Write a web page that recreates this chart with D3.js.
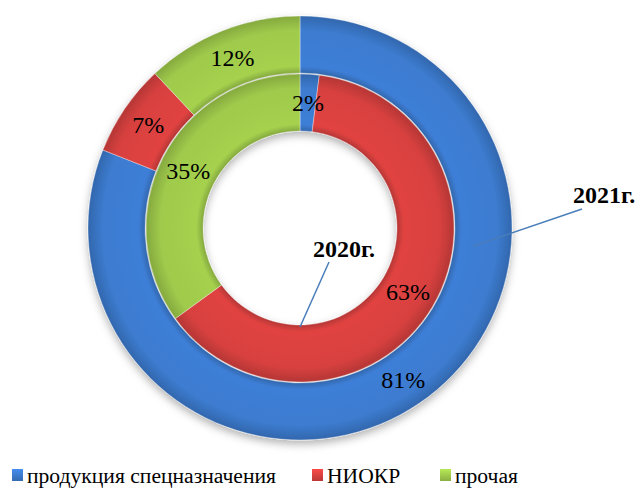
<!DOCTYPE html>
<html>
<head>
<meta charset="utf-8">
<script src="https://cdn.jsdelivr.net/npm/d3@7"></script>
<style>
  body { margin: 0; background: #fff; }
  svg { display: block; }
</style>
</head>
<body>
<svg id="chart"></svg>
<script>
// данные
const categories = ["продукция спецназначения", "НИОКР", "прочая"];
const values2020 = [2, 63, 35];
const values2021 = [81, 7, 12];
const years = ["2020г.", "2021г."];
const colors = ["#3c7bcf", "#d8413f", "#9fca4b"];

const width = 641;
const height = 489;
const cx = 300, cy = 228;
const serif = "'Liberation Serif', 'Times New Roman', 'DejaVu Serif', serif";

const svg = d3.select("#chart").attr("width", width).attr("height", height);
const defs = svg.append("defs");

// тень под диаграммой
const shadow = defs.append("filter").attr("id", "shadow")
  .attr("x", "-20%").attr("y", "-20%").attr("width", "140%").attr("height", "140%");
shadow.append("feDropShadow")
  .attr("dx", 0).attr("dy", 4).attr("stdDeviation", 4)
  .attr("flood-color", "#000").attr("flood-opacity", 0.3);

// радиусы колец: внутреннее 2020, внешнее 2021
const rings = [
  {name: years[0], values: values2020, r0: 97, r1: 154},
  {name: years[1], values: values2021, r0: 155, r1: 212}
];

const pie = d3.pie().sort(null).value(d => d);

const g = svg.append("g")
  .attr("transform", `translate(${cx},${cy})`);

const chartG = g.append("g").attr("filter", "url(#shadow)");

rings.forEach((ring, ri) => {
  // градиенты "фаски"
  colors.forEach((c, ci) => {
    const base = d3.color(c);
    const k = ring.r0 / ring.r1;
    const span = 1 - k;
    const grad = defs.append("radialGradient")
      .attr("id", `grad-${ri}-${ci}`)
      .attr("gradientUnits", "userSpaceOnUse")
      .attr("cx", 0).attr("cy", 0).attr("r", ring.r1);
    grad.append("stop").attr("offset", k).attr("stop-color", base.darker(0.5));
    grad.append("stop").attr("offset", k + span * 0.12).attr("stop-color", base.brighter(0.1));
    grad.append("stop").attr("offset", k + span * 0.75).attr("stop-color", base);
    grad.append("stop").attr("offset", 1).attr("stop-color", base.darker(0.5));
  });

  const arc = d3.arc().innerRadius(ring.r0).outerRadius(ring.r1);
  const arcs = pie(ring.values);

  chartG.selectAll(null)
    .data(arcs)
    .join("path")
    .attr("d", arc)
    .attr("fill", (d, i) => `url(#grad-${ri}-${i})`)
    .attr("stroke", "#ffffff")
    .attr("stroke-opacity", 0.35)
    .attr("stroke-width", 1);

  g.selectAll(null)
    .data(arcs)
    .join("text")
    .attr("transform", d => `translate(${arc.centroid(d)})`)
    .attr("text-anchor", "middle")
    .attr("dy", "0.35em")
    .style("font-family", serif)
    .style("font-size", "24px")
    .attr("fill", "#000")
    .text(d => d.data + "%");
});

// подписи рядов с выносками
const polar = (r, a) => [r * Math.sin(a), -r * Math.cos(a)];

// 2020
const p2020 = polar(99, Math.PI);
g.append("line")
  .attr("x1", p2020[0]).attr("y1", p2020[1])
  .attr("x2", 29).attr("y2", 34)
  .attr("stroke", "#4a7ebb").attr("stroke-width", 1.5);
g.append("text")
  .attr("x", 44).attr("y", 29)
  .attr("text-anchor", "middle")
  .style("font-family", serif).style("font-size", "24px").style("font-weight", "bold")
  .text(years[0]);

// 2021
const p2021 = polar(174, 96 * Math.PI / 180);
g.append("line")
  .attr("x1", p2021[0]).attr("y1", p2021[1])
  .attr("x2", 282).attr("y2", -19)
  .attr("stroke", "#4a7ebb").attr("stroke-width", 1.5);
g.append("text")
  .attr("x", 273).attr("y", -25)
  .style("font-family", serif).style("font-size", "24px").style("font-weight", "bold")
  .text(years[1]);

// легенда
const legendX = [12, 312, 440];
const legend = svg.append("g");
categories.forEach((c, i) => {
  const base = d3.color(colors[i]);
  const lg = defs.append("linearGradient").attr("id", `leg-${i}`)
    .attr("x1", 0).attr("y1", 0).attr("x2", 0).attr("y2", 1);
  lg.append("stop").attr("offset", 0).attr("stop-color", base.brighter(0.4));
  lg.append("stop").attr("offset", 1).attr("stop-color", base.darker(0.4));
  legend.append("rect")
    .attr("x", legendX[i]).attr("y", 469)
    .attr("width", 11).attr("height", 12)
    .attr("fill", `url(#leg-${i})`);
  legend.append("text")
    .attr("x", legendX[i] + 15).attr("y", 483)
    .style("font-family", serif).style("font-size", "21.6px")
    .text(c);
});
</script>
</body>
</html>
